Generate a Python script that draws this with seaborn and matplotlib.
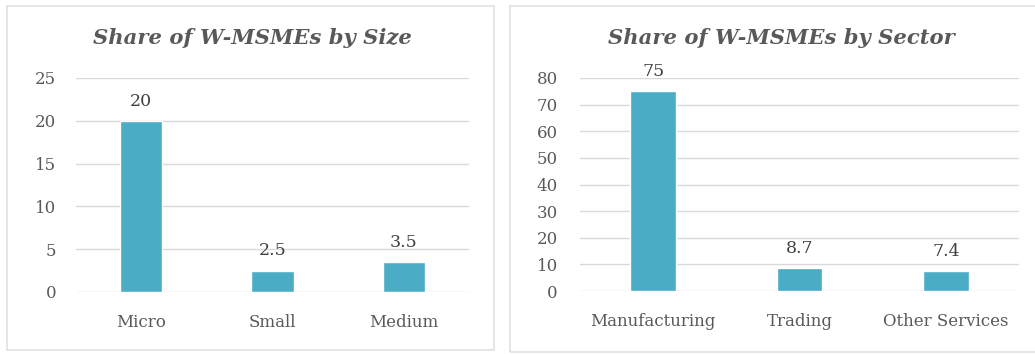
import matplotlib
matplotlib.use("Agg")
import matplotlib.pyplot as plt
from matplotlib.patches import Rectangle
import seaborn as sns

size_categories = ["Micro", "Small", "Medium"]
size_values = [20, 2.5, 3.5]
size_ticks = [0, 5, 10, 15, 20, 25]

sector_categories = ["Manufacturing", "Trading", "Other Services"]
sector_values = [75, 8.7, 7.4]
sector_ticks = [0, 10, 20, 30, 40, 50, 60, 70, 80]

sns.set_theme(style="white")
plt.rcParams["font.family"] = ["DejaVu Serif"]

BAR = "#4BACC6"
GRID = "#D9D9D9"
TEXT = "#595959"

W, H = 1035, 354
fig = plt.figure(figsize=(W / 100, H / 100), dpi=100)
fig.patch.set_facecolor("white")


def px(x0, y0, x1, y1):
    """Convert a pixel box (top-left origin) to figure fractions."""
    return [x0 / W, 1 - y1 / H, (x1 - x0) / W, (y1 - y0) / H]


# panel frames
for (x0, y0, x1, y1) in [(7, 6, 494, 350), (510, 6, 1040, 352)]:
    fig.patches.append(Rectangle((x0 / W, 1 - y1 / H), (x1 - x0) / W, (y1 - y0) / H,
                                 transform=fig.transFigure, fill=False,
                                 edgecolor="#E0E0E0", linewidth=1.2))


def panel(box, cats, vals, ticks, title, title_x, width, ypad):
    ax = fig.add_axes(box)
    sns.barplot(x=cats, y=vals, color=BAR, saturation=1, width=width, ax=ax)
    ax.set_ylim(ticks[0], ticks[-1])
    ax.set_yticks(ticks)
    ax.yaxis.grid(True, color=GRID, linewidth=1)
    ax.set_axisbelow(True)
    for s in ax.spines.values():
        s.set_visible(False)
    ax.tick_params(axis="y", length=0, pad=ypad, labelsize=12, labelcolor=TEXT)
    ax.tick_params(axis="x", length=0, pad=16, labelsize=12, labelcolor=TEXT)
    ax.set_facecolor("none")
    ax.bar_label(ax.containers[0], fmt="%g", padding=8, fontsize=12.5, color="#404040")
    fig.text(title_x / W, 1 - 38 / H, title, ha="center", va="center",
             fontsize=15.2, fontweight="bold", fontstyle="italic", color="#595959")
    return ax


panel(px(75.5, 78, 469.5, 292), size_categories, size_values, size_ticks,
      "Share of W-MSMEs by Size", 252, 0.32, 14)
panel(px(580, 78, 1019, 291), sector_categories, sector_values, sector_ticks,
      "Share of W-MSMEs by Sector", 781, 0.31, 16)

fig.savefig("out.png", dpi=100)
